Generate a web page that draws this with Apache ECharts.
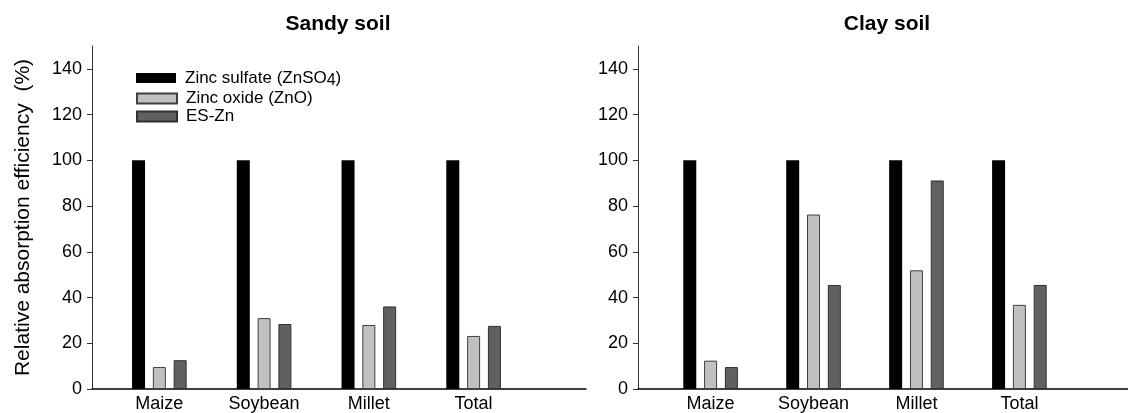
<!DOCTYPE html>
<html>
<head>
<meta charset="utf-8">
<script src="https://cdn.jsdelivr.net/npm/echarts@6/dist/echarts.min.js"></script>
<style>html,body{margin:0;padding:0;background:#fff}#c{width:1128px;height:413px}</style>
</head>
<body>
<div id="c"></div>
<script>
var categories = ['Maize', 'Soybean', 'Millet', 'Total'];
var seriesNames = ['Zinc sulfate (ZnSO4)', 'Zinc oxide (ZnO)', 'ES-Zn'];
var sandyZnSO4 = [100, 100, 100, 100];
var sandyZnO = [9.6, 31.0, 28.0, 23.2];
var sandyESZn = [12.6, 28.4, 36.1, 27.6];
var clayZnSO4 = [100, 100, 100, 100];
var clayZnO = [12.4, 76.3, 51.9, 36.8];
var clayESZn = [9.6, 45.5, 91.2, 45.5];
var yTicks = [0, 20, 40, 60, 80, 100, 120, 140];
var catPositions = [1, 2, 3, 4];

var FONT = '"Liberation Sans", Arial, sans-serif';
var colors = ['#000000', '#c0c0c0', '#606060'];
var borders = ['#000000', '#404040', '#303030'];

function pts(arr) { return arr.map(function (v, i) { return [catPositions[i], v]; }); }

function xAxis(gridIndex, min, max) {
  return {
    type: 'value', gridIndex: gridIndex, min: min, max: max,
    splitLine: { show: false },
    axisLine: { show: true, lineStyle: { color: '#000', width: 1.5 } },
    axisTick: { show: false },
    axisLabel: {
      customValues: catPositions, margin: 6,
      formatter: function (v) { return categories[Math.round(v) - 1] || ''; },
      color: '#000', fontSize: 18, fontFamily: FONT
    }
  };
}
function yAxis(gridIndex, withName) {
  var a = {
    type: 'value', gridIndex: gridIndex, min: 0, max: 150,
    splitLine: { show: false },
    axisLine: { show: true, onZero: false, lineStyle: { color: '#333', width: 1 } },
    axisTick: { show: true, length: 5, customValues: yTicks, lineStyle: { color: '#333' } },
    axisLabel: { customValues: yTicks, margin: 10, color: '#000', fontSize: 18, fontFamily: FONT }
  };
  if (withName) {
    a.name = 'Relative absorption efficiency  (%)';
    a.nameLocation = 'middle';
    a.nameGap = 58;
    a.nameTextStyle = { color: '#000', fontSize: 21, fontFamily: FONT };
  }
  return a;
}
function bar(name, data, idx, gridIndex) {
  return {
    type: 'bar', name: name, data: pts(data),
    xAxisIndex: gridIndex, yAxisIndex: gridIndex,
    barWidth: 13, barGap: '60%',
    itemStyle: { color: colors[idx], borderColor: borders[idx], borderWidth: idx === 0 ? 0 : 1 },
    emphasis: { disabled: true }
  };
}
function legend(name, top) {
  return {
    data: [name], left: 136, top: top, padding: 0, orient: 'vertical',
    icon: 'rect', itemWidth: 40, itemHeight: 10, selectedMode: false,
    textStyle: {
      color: '#000', fontSize: 17, fontFamily: FONT, padding: [0, 0, 0, 4],
      rich: {
        t: { fontSize: 17, fontFamily: FONT, color: '#000', lineHeight: 19 },
        s: { fontSize: 16, fontFamily: FONT, color: '#000', lineHeight: 19, padding: [6, 0, 0, 0] }
      }
    },
    formatter: function (n) {
      if (n === seriesNames[0]) return '{t|Zinc sulfate (ZnSO}{s|4}{t|)}';
      return n;
    }
  };
}

var chart = echarts.init(document.getElementById('c'), null, { renderer: 'canvas' });
chart.setOption({
  animation: false,
  backgroundColor: '#fff',
  title: [
    { text: 'Sandy soil', left: 338, top: 14, padding: 0, textAlign: 'center',
      textStyle: { fontSize: 21, fontWeight: 'bold', color: '#000', fontFamily: FONT } },
    { text: 'Clay soil', left: 887, top: 14, padding: 0, textAlign: 'center',
      textStyle: { fontSize: 21, fontWeight: 'bold', color: '#000', fontFamily: FONT } }
  ],
  legend: [legend(seriesNames[0], 67), legend(seriesNames[1], 90), legend(seriesNames[2], 108)],
  grid: [
    { left: 92, top: 46, width: 494, bottom: 23, containLabel: false },
    { left: 638, top: 46, right: 0, bottom: 23, containLabel: false }
  ],
  xAxis: [xAxis(0, 0.357, 5.073), xAxis(1, 0.295, 5.055)],
  yAxis: [yAxis(0, true), yAxis(1, false)],
  series: [
    bar(seriesNames[0], sandyZnSO4, 0, 0),
    bar(seriesNames[1], sandyZnO, 1, 0),
    bar(seriesNames[2], sandyESZn, 2, 0),
    bar(seriesNames[0], clayZnSO4, 0, 1),
    bar(seriesNames[1], clayZnO, 1, 1),
    bar(seriesNames[2], clayESZn, 2, 1)
  ]
});
</script>
</body>
</html>
